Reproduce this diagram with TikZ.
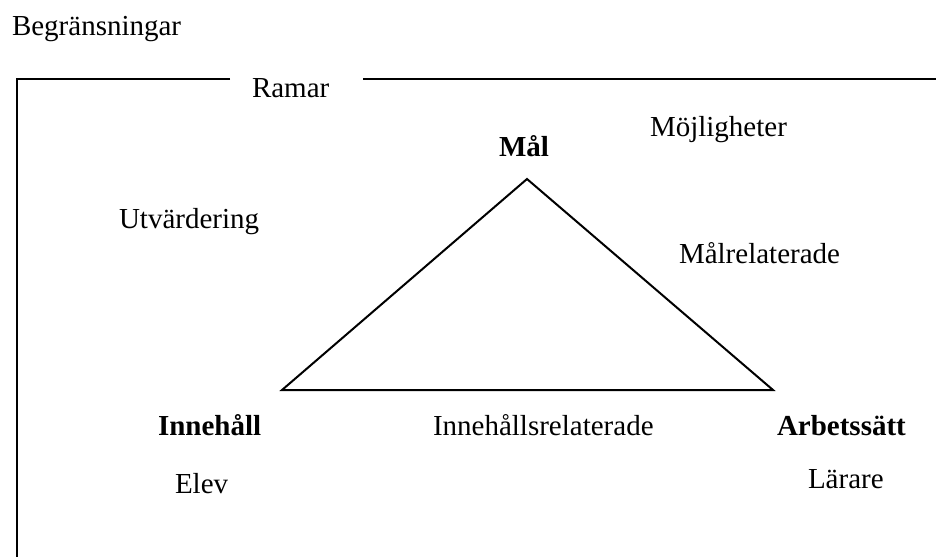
\documentclass[tikz,border=0pt]{standalone}
\usepackage{fontspec}
\setmainfont{Liberation Serif}
\usepackage{tikz}

\begin{document}
\begin{tikzpicture}[x=0.5pt, y=-0.5pt, line width=1pt,
    lbl/.style = {inner sep=0pt, anchor=base west, font=\fontsize{14.5}{17}\selectfont},
    head/.style = {lbl, font=\fontsize{14.5}{17}\selectfont\bfseries}]
    \useasboundingbox (0,0) rectangle (936,557);

    % frame
    \coordinate (gapL)   at (230,79);
    \coordinate (corner) at (17,79);
    \coordinate (bottom) at (17,557);
    \coordinate (gapR)   at (363,79);
    \coordinate (topend) at (936,79);
    \draw (gapL) -- (corner) -- (bottom);
    \draw (gapR) -- (topend);

    % triangle
    \coordinate (top)   at (527,179);
    \coordinate (left)  at (282,390);
    \coordinate (right) at (773,390);
    \draw[line join=miter] (top) -- (right) -- (left) -- cycle;

    \node[lbl]  (beg)  at (11,35)   {Begränsningar};
    \node[lbl]  (ram)  at (251,97)  {Ramar};
    \node[lbl]  (moj)  at (649,136) {Möjligheter};
    \node[head] (mal)  at (498,156) {Mål};
    \node[lbl]  (utv)  at (118,228) {Utvärdering};
    \node[lbl]  (malr) at (678,263) {Målrelaterade};
    \node[head] (inn)  at (157,435) {Innehåll};
    \node[lbl]  (innr) at (432,435) {Innehållsrelaterade};
    \node[head] (arb)  at (776,435) {Arbetssätt};
    \node[lbl]  (elev) at (174,493) {Elev};
    \node[lbl]  (lar)  at (807,488) {Lärare};
\end{tikzpicture}
\end{document}
